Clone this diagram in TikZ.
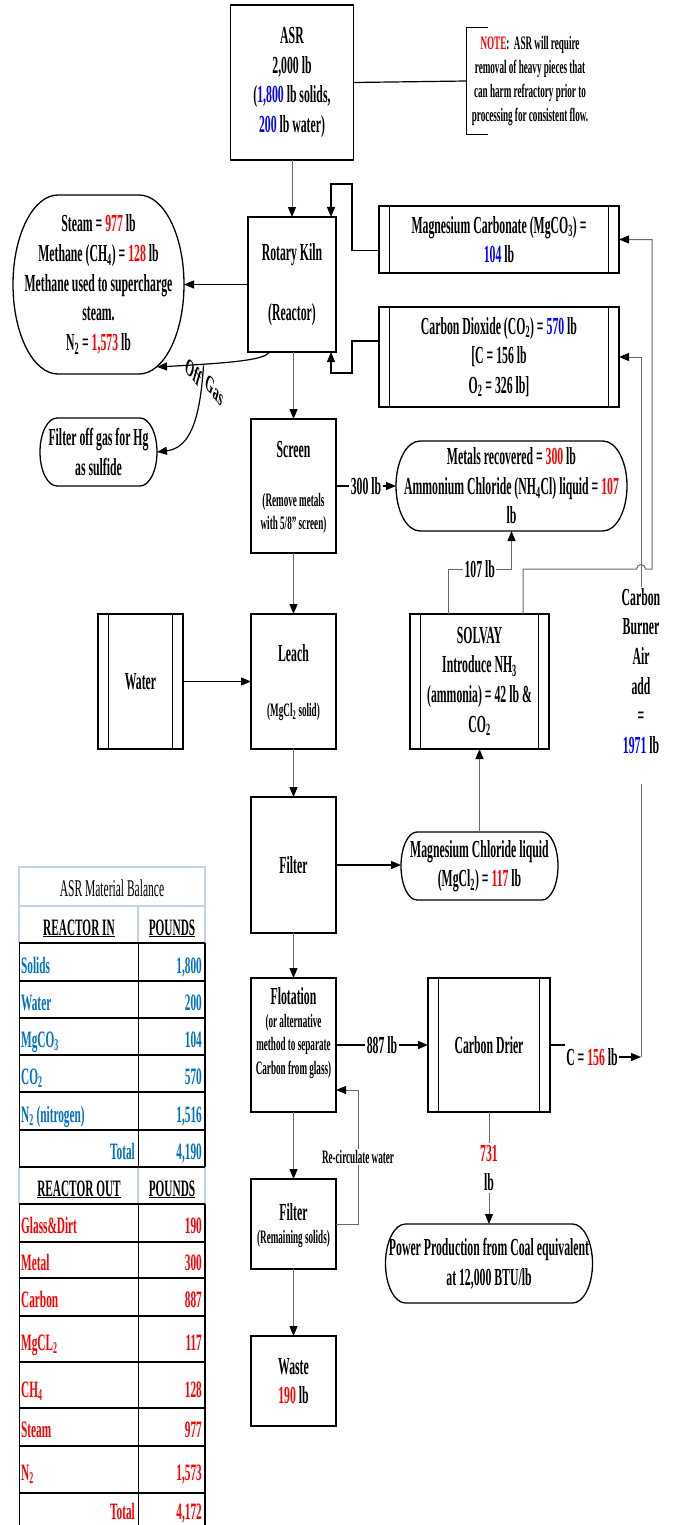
\documentclass[tikz,border=0pt]{standalone}
\usepackage{fontspec}
\usepackage{graphicx}
\setmainfont{Liberation Serif}[FakeStretch=0.48]
\newfontfamily\plainserif{Liberation Serif}
\usetikzlibrary{arrows.meta,calc}
\definecolor{fred}{RGB}{255,0,0}
\definecolor{fblue}{RGB}{0,0,255}
\definecolor{tblue}{RGB}{0,112,192}
\definecolor{tlight}{RGB}{196,210,230}
\definecolor{lgray}{RGB}{105,105,105}
\newcommand{\redt}[1]{\textcolor{fred}{#1}}
\newcommand{\bluet}[1]{\textcolor{fblue}{#1}}
\newcommand{\sbs}[1]{\textsubscript{#1}}
\newcommand{\fmain}{\fontsize{24.5}{29.6}\selectfont\bfseries}
\newcommand{\fsmall}{\fontsize{19}{23.5}\selectfont\bfseries}
\newcommand{\fnote}{\fontsize{19}{24}\selectfont\bfseries}
\newcommand{\ftab}{\fontsize{23.5}{28}\selectfont\bfseries}
\newcommand{\termshape}[3]{\draw[boxline] ([xshift=#2]#1.north west) -- ([xshift=-#2]#1.north east) arc[start angle=90,end angle=-90,x radius=#2,y radius=#3] -- ([xshift=#2]#1.south west) arc[start angle=270,end angle=90,x radius=#2,y radius=#3] -- cycle;}
\newcommand{\predefl}[1]{\draw[innerl] ([xshift=10.5pt]#1.north west) -- ([xshift=10.5pt]#1.south west) ([xshift=-10.5pt]#1.north east) -- ([xshift=-10.5pt]#1.south east);}
\tikzset{
 boxn/.style={draw=black, line width=1.3pt, rectangle, inner sep=0pt, outer sep=0pt, align=center, font=\fmain},
 termn/.style={draw=none, rectangle, inner sep=0pt, outer sep=0pt, align=center, font=\fmain},
 txt/.style={inner sep=1pt, align=center, font=\fmain},
 boxline/.style={draw=black, line width=1.3pt},
 innerl/.style={draw=black, line width=0.9pt},
 conn/.style={draw=black, line width=1.2pt, -{Triangle[length=10pt,width=8pt]}},
 connG/.style={draw=lgray, line width=1pt, -{Triangle[length=10pt,width=8pt,color=black]}},
 plain/.style={draw=black, line width=1.2pt},
 plainG/.style={draw=lgray, line width=1pt},
 lbl/.style={fill=white, inner sep=1.5pt, font=\fmain, align=center},
 tabt/.style={font=\ftab, inner sep=0pt, anchor=base west},
 tabv/.style={font=\ftab, inner sep=0pt, anchor=base east},
 tabh/.style={font=\ftab, inner sep=0pt, anchor=base},
 gasl/.style={inner sep=0pt, cm={0.866,-1.04,0.5,1.80,(0,0)}, font=\plainserif\fontsize{11.5}{13}\selectfont\bfseries},
}
\begin{document}
\begin{tikzpicture}[x=1pt,y=-1pt]
\fill[white] (0,0) rectangle (676,1525);
\useasboundingbox (0,0) rectangle (676,1525);

% ---------- nodes ----------
\node[boxn, minimum width=123pt, minimum height=155pt] (asr) at (292,82.5) {ASR\\2,000 lb\\(\bluet{1,800} lb solids,\\\bluet{200} lb water)};
\node[txt, font=\fnote, minimum width=126pt, minimum height=106pt, inner sep=0pt] (note) at (530,81) {\redt{NOTE}:\ \ ASR will require\\removal of heavy pieces that\\can harm refractory prior to\\processing for consistent flow.};
\draw[plain] ([xshift=21pt]note.north west) -- (note.north west) -- (note.south west) -- ([xshift=21pt]note.south west);

\node[boxn, minimum width=88pt, minimum height=135pt] (kiln) at (292,284.5) {Rotary Kiln\\[30pt](Reactor)};

\node[termn, minimum width=171pt, minimum height=179pt] (steam) at (98.5,284.5) {Steam = \redt{977} lb\\Methane (CH\sbs{4}) = \redt{128} lb\\Methane used to supercharge\\steam.\\N\sbs{2} = \redt{1,573} lb};
\termshape{steam}{45pt}{89.5pt}

\node[termn, minimum width=117pt, minimum height=68pt] (filtgas) at (98.5,452) {Filter off gas for Hg\\as sulfide};
\termshape{filtgas}{17pt}{34pt}

\node[boxn, minimum width=240pt, minimum height=67pt] (mg) at (499,239.5) {Magnesium Carbonate (MgCO\sbs{3}) =\\\bluet{104} lb};
\predefl{mg}
\node[boxn, minimum width=240pt, minimum height=100pt] (co2) at (499,357) {Carbon Dioxide (CO\sbs{2}) = \bluet{570} lb\\{[}C = 156 lb\\O\sbs{2} = 326 lb]};
\predefl{co2}

\node[boxn, minimum width=85pt, minimum height=134pt] (screen) at (293.5,486) {};
\node[txt] (screenT) at (293.5,450) {Screen};
\node[txt, font=\fsmall] (screenS) at (293.5,513.5) {(Remove metals\\with 5/8" screen)};

\node[termn, minimum width=231pt, minimum height=90pt] (metals) at (511.5,486) {Metals recovered = \redt{300} lb\\Ammonium Chloride (NH\sbs{4}Cl) liquid = \redt{107}\\lb};
\termshape{metals}{24pt}{45pt}

\node[boxn, minimum width=85pt, minimum height=135pt] (water) at (140.5,681.5) {Water};
\predefl{water}
\node[boxn, minimum width=85pt, minimum height=135pt] (leach) at (293.5,681.5) {};
\node[txt] (leachT) at (293.5,653) {Leach};
\node[txt, font=\fsmall] (leachS) at (293.5,712) {(MgCl\sbs{2} solid)};

\node[boxn, minimum width=139pt, minimum height=135pt] (solvay) at (479.5,681.5) {SOLVAY\\Introduce NH\sbs{3}\\(ammonia) = 42 lb \&\\CO\sbs{2}};
\predefl{solvay}

\node[txt, fill=white] (carbon) at (641,671) {Carbon\\Burner\\Air\\add\\=\\\bluet{1971} lb};

\node[boxn, minimum width=85pt, minimum height=136pt] (filter) at (293.5,865) {Filter};
\node[termn, minimum width=157pt, minimum height=68pt] (mgcl) at (479.5,866) {Magnesium Chloride liquid\\(MgCl\sbs{2}) = \redt{117} lb};
\termshape{mgcl}{16pt}{34pt}

\node[boxn, minimum width=85pt, minimum height=134pt] (flot) at (293.5,1045) {};
\node[txt] (flotT) at (293.5,996) {Flotation};
\node[txt, font=\fsmall] (flotS) at (293.5,1046) {(or alternative\\method to separate\\Carbon from glass)};

\node[boxn, minimum width=122pt, minimum height=134pt] (drier) at (489,1045) {Carbon Drier};
\predefl{drier}
\node[txt] (c156) at (592,1057) {C = \redt{156} lb};
\coordinate (cbot) at (641,1057);

\node[termn, minimum width=207pt, minimum height=79pt] (power) at (489,1263.5) {Power Production from Coal equivalent\\at 12,000 BTU/lb};
\termshape{power}{20pt}{39.5pt}

\node[boxn, minimum width=85pt, minimum height=90pt] (filter2) at (293.5,1224) {};
\node[txt] (filter2T) at (293.5,1212) {Filter};
\node[txt, font=\fsmall] (filter2S) at (293.5,1239) {(Remaining solids)};
\node[boxn, minimum width=85pt, minimum height=90pt] (waste) at (293.5,1381) {Waste\\\redt{190} lb};

% ---------- connectors ----------
\draw[connG] (asr.south) -- (asr.south |- kiln.north);
\draw[plain] (asr.east) -- (note.west);
\draw[conn] (kiln.west) -- (steam.east);
\coordinate (steamin) at (157,367);
\draw[conn] ([xshift=-23pt]kiln.south) .. controls (266,360) and (230,363) .. (steamin);
\coordinate (gasfork) at (203.5,365.5);
\draw[conn] (gasfork) .. controls (200,420) and (190,448) .. (filtgas.east);
\node[gasl] (offl) at (194,372) {Off};
\node[gasl] (gasl) at (215,390) {Gas};

\draw[conn] ([yshift=-11pt]mg.west) -- ++(-27,0) -- ++(0,-66.5) -| ([xshift=-5pt]kiln.north east);
\draw[conn] ([yshift=16pt]co2.west) -- ++(-27,0) -- ++(0,32) -| ([xshift=-5pt]kiln.south east);

\draw[connG] ([xshift=43.5pt]solvay.north) -- (523,569) -- (636.5,569) arc[start angle=180,end angle=0,radius=4.5pt] -- (652,569) |- (mg.east);
\draw[plainG] (cbot) -- ([yshift=-29pt]carbon.south);
\draw[connG] (carbon.north) |- (co2.east);
\draw[plain] (drier.east) -- (c156.west |- drier.east);
\draw[conn] (c156.east) -- (cbot);

\draw[connG] (kiln.south -| screen.north) -- (screen.north);
\draw[conn] (screen.east) -- node[lbl]{300 lb} (metals.west);
\coordinate (j107) at (448,569);
\draw[connG] ([xshift=-31.5pt]solvay.north) -- (j107) -- node[lbl]{107 lb} (metals.south |- j107) -- (metals.south);
\draw[connG] (screen.south) -- (leach.north);
\draw[conn] (water.east) -- (leach.west);
\draw[connG] (leach.south) -- (filter.north);
\draw[conn] (filter.east) -- (filter.east -| mgcl.west);
\draw[connG] (mgcl.north) -- (mgcl.north |- solvay.south);
\draw[connG] (filter.south) -- (flot.north);
\draw[conn] (flot.east) -- node[lbl]{887 lb} (drier.west);
\draw[connG] (drier.south) -- node[lbl]{\redt{731}\\lb} (power.north);
\draw[connG] (flot.south) -- (filter2.north);
\draw[connG] (filter2.east) -- ++(22,0) -- node[lbl,font=\fsmall]{Re-circulate water} ++(0,-134) -- ([yshift=-45pt]flot.east);
\draw[connG] (filter2.south) -- (waste.north);

% ---------- table ----------
\draw[tlight, line width=1.2pt] (19,867) rectangle (205,906);
\draw[tlight, line width=1.2pt] (19,906) -- (19,943) (138,906) -- (138,943) (205,906) -- (205,943);
\draw[tlight, line width=1.2pt] (19,1167) -- (19,1204) (138,1167) -- (138,1204) (205,1167) -- (205,1204);
\foreach \yy in {943,981,1018,1055,1092,1130,1167,1204,1242,1278,1316,1362,1408,1446,1493}
  \draw[black, line width=2pt] (19,\yy) -- (205,\yy);
\draw[black, line width=1pt] (19,943) -- (19,1167) (19,1204) -- (19,1525) (138,943) -- (138,1167) (138,1204) -- (138,1525);
\draw[black, line width=2.5pt] (205,943) -- (205,1167) (205,1204) -- (205,1525);

\node[font=\fontsize{24}{28}\selectfont, inner sep=0pt] (ttl) at (112,888) {ASR Material Balance};
\node[tabh] (h1) at (79,935) {\underline{REACTOR IN}};
\node[tabh] (h2) at (172,935) {\underline{POUNDS}};
\node[tabh] (h3) at (79,1196) {\underline{REACTOR OUT}};
\node[tabh] (h4) at (172,1196) {\underline{POUNDS}};

\node[tabt, text=tblue] (i1) at (21,973) {Solids};
\node[tabv, text=tblue] (v1) at (202,973) {1,800};
\node[tabt, text=tblue] (i2) at (21,1010) {Water};
\node[tabv, text=tblue] (v2) at (202,1010) {200};
\node[tabt, text=tblue] (i3) at (21,1047) {MgCO\sbs{3}};
\node[tabv, text=tblue] (v3) at (202,1047) {104};
\node[tabt, text=tblue] (i4) at (21,1084) {CO\sbs{2}};
\node[tabv, text=tblue] (v4) at (202,1084) {570};
\node[tabt, text=tblue] (i5) at (21,1122) {N\sbs{2} (nitrogen)};
\node[tabv, text=tblue] (v5) at (202,1122) {1,516};
\node[tabv, text=tblue] (i6) at (135,1159) {Total};
\node[tabv, text=tblue] (v6) at (202,1159) {4,190};

\node[tabt, text=fred] (o1) at (21,1233) {Glass\&Dirt};
\node[tabv, text=fred] (w1) at (202,1233) {190};
\node[tabt, text=fred] (o2) at (21,1270) {Metal};
\node[tabv, text=fred] (w2) at (202,1270) {300};
\node[tabt, text=fred] (o3) at (21,1307) {Carbon};
\node[tabv, text=fred] (w3) at (202,1307) {887};
\node[tabt, text=fred] (o4) at (21,1350) {MgCL\sbs{2}};
\node[tabv, text=fred] (w4) at (202,1350) {117};
\node[tabt, text=fred] (o5) at (21,1397) {CH\sbs{4}};
\node[tabv, text=fred] (w5) at (202,1397) {128};
\node[tabt, text=fred] (o6) at (21,1437) {Steam};
\node[tabv, text=fred] (w6) at (202,1437) {977};
\node[tabt, text=fred] (o7) at (21,1480) {N\sbs{2}};
\node[tabv, text=fred] (w7) at (202,1480) {1,573};
\node[tabv, text=fred] (o8) at (135,1519) {Total};
\node[tabv, text=fred] (w8) at (202,1519) {4,172};
\end{tikzpicture}
\end{document}
